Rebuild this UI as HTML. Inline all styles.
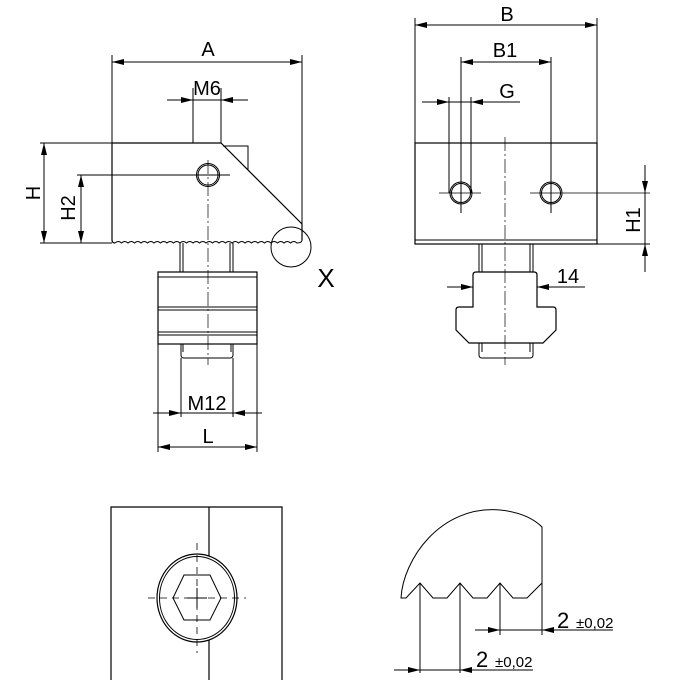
<!DOCTYPE html>
<html><head><style>html,body{margin:0;padding:0;background:#fff}svg{display:block}text{font-family:"Liberation Sans",sans-serif;fill:#000}</style></head>
<body>
<svg width="700" height="700" viewBox="0 0 700 700" xmlns="http://www.w3.org/2000/svg">
<defs>
<marker id="a" viewBox="0 0 12 6" refX="12" refY="3" markerWidth="12" markerHeight="6" orient="auto-start-reverse" markerUnits="userSpaceOnUse"><path d="M0,0L12,3L0,6z" fill="#000"/></marker>
</defs>
<g fill="none" stroke="#000" stroke-width="1">
<path d="M112,143 H221 L302,224 V240 M112,143 V240 Q112,243 115,243" stroke-width="1.2"/>
<path d="M115,243 q3.25,-3 6.5,0 q3.25,-3 6.5,0 q3.25,-3 6.5,0 q3.25,-3 6.5,0 q3.25,-3 6.5,0 q3.25,-3 6.5,0 q3.25,-3 6.5,0 q3.25,-3 6.5,0 q3.25,-3 6.5,0 q3.25,-3 6.5,0 q3.25,-3 6.5,0 q3.25,-3 6.5,0 q3.25,-3 6.5,0 q3.25,-3 6.5,0 q3.25,-3 6.5,0 q3.25,-3 6.5,0 q3.25,-3 6.5,0 q3.25,-3 6.5,0 q3.25,-3 6.5,0 q3.25,-3 6.5,0 q3.25,-3 6.5,0 q3.25,-3 6.5,0 q3.25,-3 6.5,0 q3.25,-3 6.5,0 q3.25,-3 6.5,0 q3.25,-3 6.5,0 q3.25,-3 6.5,0 q3.25,-3 6.5,0 Q302,243 302,240"/>
<path d="M223,146 H248 V170"/>
<circle cx="208" cy="175" r="11.5"/><circle cx="208" cy="175" r="10"/>
<path d="M208,160 V365" stroke-width="0.7" stroke-dasharray="14,3,2,3"/>
<path d="M180,243 V272 M183,243 V272 M233,243 V272 M230,243 V272"/>
<rect x="158" y="272" width="99" height="72" stroke-width="1.2"/>
<path d="M158,277 H257 M158,307 H257 M158,310 H257 M158,332 H257 M158,335 H257"/>
<path d="M181,344 V355 Q181,358 184,358 H230 Q233,358 233,355 V344 M183,344 V352 M231,344 V352"/>
<circle cx="291" cy="247" r="20"/>
<path d="M112,143 V55 M302,224 V55 M193,143 V88 M221,143 V88"/>
<path d="M112,62 H302" marker-start="url(#a)" marker-end="url(#a)"/>
<path d="M167,100 H193" marker-end="url(#a)"/><path d="M248,100 H221" marker-end="url(#a)"/><path d="M193,100 H221"/>
<path d="M40,143 H112 M40,243 H112 M77,175 H230"/>
<path d="M44,143 V243" marker-start="url(#a)" marker-end="url(#a)"/>
<path d="M81,175 V243" marker-start="url(#a)" marker-end="url(#a)"/>
<path d="M181,358 V417 M233,358 V417 M158,344 V452 M257,344 V452"/>
<path d="M153,413 H181" marker-end="url(#a)"/><path d="M262,413 H233" marker-end="url(#a)"/><path d="M181,413 H233"/>
<path d="M158,447 H257" marker-start="url(#a)" marker-end="url(#a)"/>
<rect x="415" y="143" width="182" height="101" stroke-width="1.2"/>
<path d="M415,240 H597"/>
<circle cx="461" cy="193" r="11"/><circle cx="461" cy="193" r="9.5"/>
<circle cx="551" cy="193" r="11"/><circle cx="551" cy="193" r="9.5"/>
<path d="M439,193 H481 M530,193 H650" stroke-width="0.8"/>
<path d="M505,137 V365" stroke-width="0.7" stroke-dasharray="14,3,2,3"/>
<path d="M415,143 V18 M597,143 V18 M461,57 V213 M551,57 V213 M449,97 V193 M471,97 V193"/>
<path d="M415,25 H597" marker-start="url(#a)" marker-end="url(#a)"/>
<path d="M461,62 H551" marker-start="url(#a)" marker-end="url(#a)"/>
<path d="M422,102 H449" marker-end="url(#a)"/><path d="M520,102 H471" marker-end="url(#a)"/><path d="M449,102 H471"/>
<path d="M597,244 H650"/>
<path d="M645,165 V193" marker-end="url(#a)"/><path d="M645,272 V244" marker-end="url(#a)"/><path d="M645,193 V244"/>
<path d="M479,244 V272 M482,244 V272 M533,244 V272 M530,244 V272"/>
<path d="M476,272 H534 Q537,272 537,275 V307 H553 Q556,307 556,310 V330 L543,343 H469 L456,330 V310 Q456,307 459,307 H473 V275 Q473,272 476,272 Z" stroke-width="1.2"/>
<path d="M479,343 V355 Q479,358 482,358 H530 Q533,358 533,355 V343 M482,343 V352 M530,343 V352"/>
<path d="M447,287 H473" marker-end="url(#a)"/><path d="M585,287 H537" marker-end="url(#a)"/>
<path d="M111,680 V507 H282 V680 M209,507 V680" stroke-width="1.2"/>
<ellipse cx="197" cy="598" rx="40" ry="44" fill="#fff" stroke-width="1.2"/>
<ellipse cx="197" cy="598" rx="37.5" ry="41.5"/>
<path d="M173,598 L184,575 H210 L221,598 L210,620 H184 Z"/>
<path d="M148,598 H246 M197,543 V653" stroke-dasharray="7,5" stroke-width="0.8"/>
<path d="M187,598 H207 M197,588 V608"/>
<path d="M401,598 C403,560 440,505 500,510 C520,512 533,518 542,527 V583 L527,598 H513 L500,583 L487,598 H473 L460,583 L447,598 H433 L420,583 L406,598 Z"/>
<path d="M420,583 V673 M460,583 V673 M500,583 V635 M542,583 V635"/>
<path d="M475,630 H500" marker-end="url(#a)"/><path d="M613,630 H542" marker-end="url(#a)"/><path d="M500,630 H542"/>
<path d="M394,670 H420" marker-end="url(#a)"/><path d="M533,670 H460" marker-end="url(#a)"/><path d="M420,670 H460"/>
</g>
<g font-size="20" text-anchor="middle">
<text x="208" y="56">A</text>
<text x="207" y="95">M6</text>
<text x="0" y="0" transform="translate(40,193) rotate(-90)">H</text>
<text x="0" y="0" transform="translate(75,208) rotate(-90)">H2</text>
<text x="326" y="287" font-size="26">X</text>
<text x="207" y="410">M12</text>
<text x="208" y="443">L</text>
<text x="507" y="21">B</text>
<text x="505" y="57">B1</text>
<text x="507" y="98">G</text>
<text x="0" y="0" transform="translate(640,220) rotate(-90)">H1</text>
<text x="568" y="283">14</text>
</g>
<g text-anchor="start">
<text x="557" y="628" font-size="22">2</text><text x="576" y="628" font-size="15">±0,02</text>
<text x="476" y="667" font-size="22">2</text><text x="495" y="667" font-size="15">±0,02</text>
</g>
</svg>
</body></html>
